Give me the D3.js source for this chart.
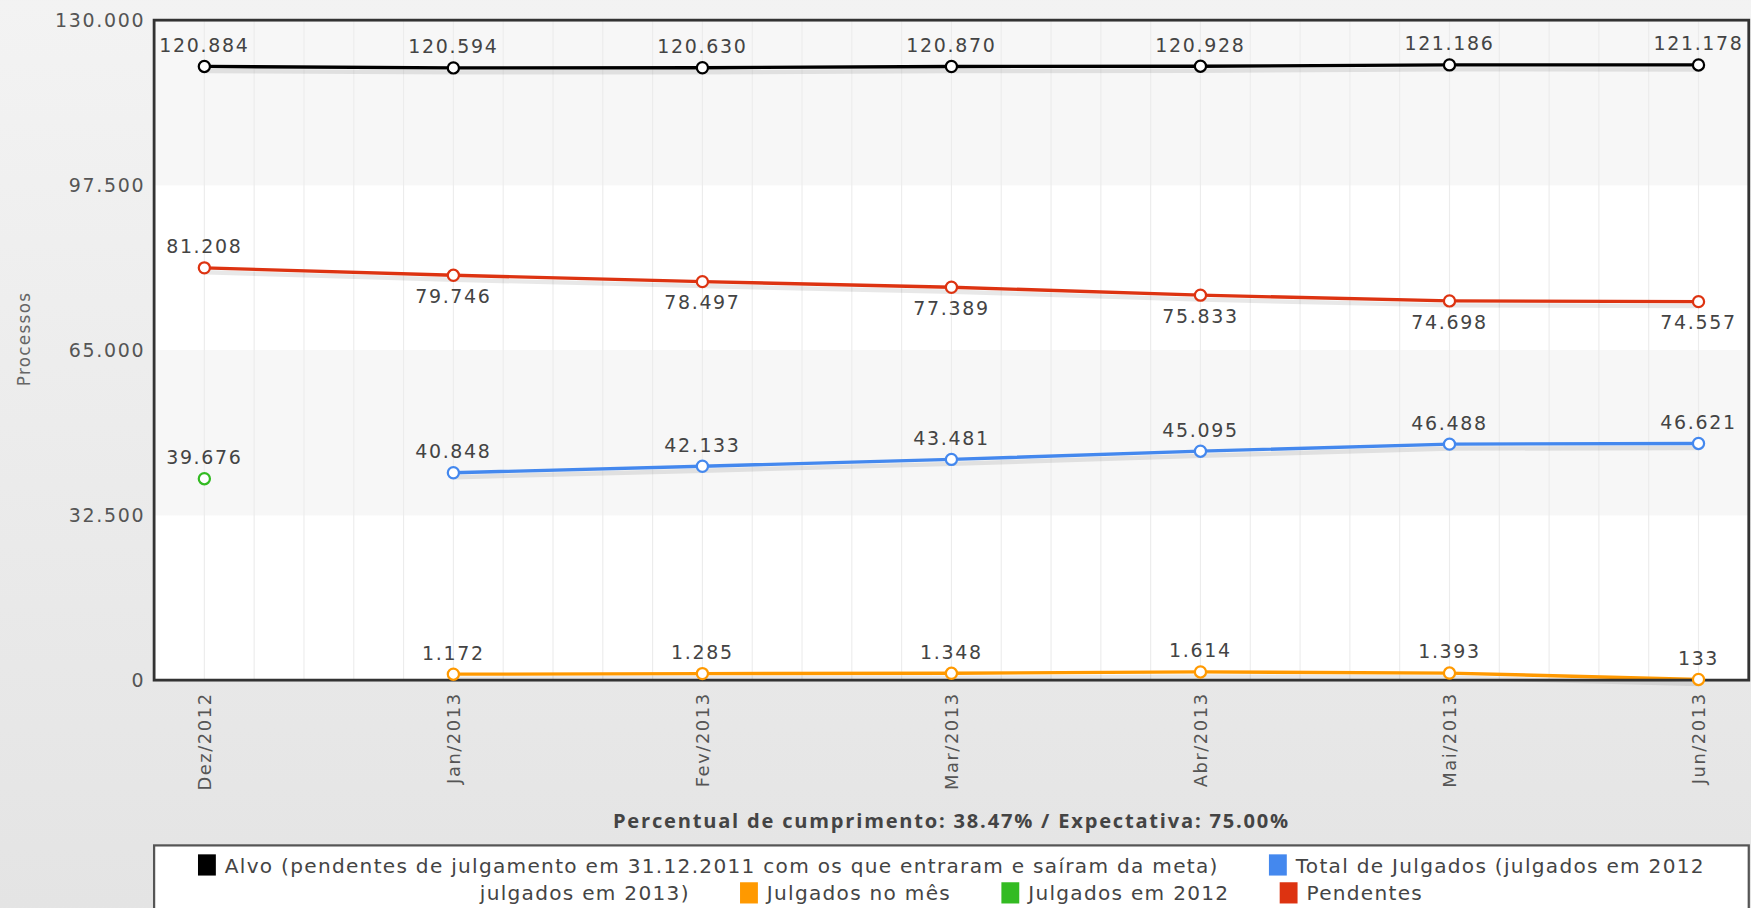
<!DOCTYPE html>
<html>
<head>
<meta charset="utf-8">
<script src="https://cdn.jsdelivr.net/npm/d3@7"></script>
<style>
  html, body { margin: 0; padding: 0; background: #ececec; }
  svg { display: block; }
</style>
</head>
<body>
<div id="chart"></div>
<script>
// categories and series
var categories = ["Dez/2012", "Jan/2013", "Fev/2013", "Mar/2013", "Abr/2013", "Mai/2013", "Jun/2013"];
var alvo = [120884, 120594, 120630, 120870, 120928, 121186, 121178];
var pendentes = [81208, 79746, 78497, 77389, 75833, 74698, 74557];
var totalJulgados = [null, 40848, 42133, 43481, 45095, 46488, 46621];
var julgadosMes = [null, 1172, 1285, 1348, 1614, 1393, 133];
var julgados2012 = [39676, null, null, null, null, null, null];
var yTicks = [0, 32500, 65000, 97500, 130000];

var series = [
    {name: "Pendentes", values: pendentes, color: "#dd3311"},
    {name: "Total de Julgados (julgados em 2012 julgados em 2013)", values: totalJulgados, color: "#4488ee"},
    {name: "Julgados no mês", values: julgadosMes, color: "#ff9900"},
    {name: "Julgados em 2012", values: julgados2012, color: "#33bb22"},
    {name: "Alvo (pendentes de julgamento em 31.12.2011 com os que entraram e saíram da meta)", values: alvo, color: "#000000"}
];

var ptBR = d3.formatLocale({decimal: ",", thousands: ".", grouping: [3], currency: ["R$", ""]});
var fmt = ptBR.format(",.0f");

// layout drawn in a 1568x813 box, scaled up to the window
var W = 1568, H = 813;
var margin = {top: 18, right: 2, bottom: 204, left: 138};
var plotW = W - margin.left - margin.right,
    plotH = H - margin.top - margin.bottom;

var svg = d3.select("#chart")
    .append("svg")
    .attr("width", 1751)
    .attr("height", 908)
    .attr("viewBox", "0 0 " + W + " " + H);

var defs = svg.append("defs");
var grad = defs.append("linearGradient")
    .attr("id", "bg")
    .attr("x1", 0).attr("y1", 0).attr("x2", 0).attr("y2", 1);
grad.append("stop").attr("offset", "0%").attr("stop-color", "#f3f3f3");
grad.append("stop").attr("offset", "100%").attr("stop-color", "#e4e4e4");

svg.append("rect")
    .attr("width", W).attr("height", H)
    .attr("fill", "url(#bg)");

var g = svg.append("g")
    .attr("transform", "translate(" + margin.left + "," + margin.top + ")");

// scales
var x = d3.scalePoint()
    .domain(categories)
    .range([45, plotW - 45]);

var y = d3.scaleLinear()
    .domain([0, 130000])
    .range([plotH, 0]);

// alternating bands
g.selectAll("rect.band")
    .data(d3.pairs(yTicks))
    .enter()
    .append("rect")
    .attr("class", "band")
    .attr("x", 0)
    .attr("width", plotW)
    .attr("y", function(d) { return y(d[1]); })
    .attr("height", function(d) { return y(d[0]) - y(d[1]); })
    .attr("fill", function(d, i) { return i % 2 ? "#f7f7f7" : "#ffffff"; });

// faint vertical grid, five per category step
var step = x.step() / 5;
var gridX = d3.range(x(categories[0]) - step, plotW, step);
g.selectAll("line.vgrid")
    .data(gridX)
    .enter()
    .append("line")
    .attr("class", "vgrid")
    .attr("x1", function(d) { return d; })
    .attr("x2", function(d) { return d; })
    .attr("y1", 0)
    .attr("y2", plotH)
    .attr("stroke", "#ececec")
    .attr("stroke-width", 1);

// y axis labels
var yAxis = g.append("g")
    .call(d3.axisLeft(y).tickValues(yTicks).tickFormat(fmt).tickSize(0).tickPadding(8));
yAxis.select(".domain").remove();
yAxis.selectAll("text")
    .attr("fill", "#555")
    .style("font-family", "DejaVu Sans")
    .style("font-size", "17px")
    .style("letter-spacing", "1.5px");

g.append("text")
    .attr("transform", "rotate(-90)")
    .attr("x", -plotH / 2 + 10)
    .attr("y", -margin.left + 22)
    .attr("dy", "0.35em")
    .style("text-anchor", "middle")
    .style("font-family", "DejaVu Sans")
    .style("font-size", "15px")
    .style("letter-spacing", "1.2px")
    .attr("fill", "#666")
    .text("Processos");

// x axis labels
g.selectAll("text.xlab")
    .data(categories)
    .enter()
    .append("text")
    .attr("class", "xlab")
    .attr("transform", function(d) { return "translate(" + x(d) + "," + (plotH + 11) + ") rotate(-90)"; })
    .attr("dy", "0.35em")
    .style("text-anchor", "end")
    .style("font-family", "DejaVu Sans")
    .style("font-size", "16px")
    .style("letter-spacing", "1.4px")
    .attr("fill", "#555")
    .text(function(d) { return d; });

// lines
var line = d3.line()
    .defined(function(d) { return d != null; })
    .x(function(d, i) { return x(categories[i]); })
    .y(function(d) { return y(d); });

series.forEach(function(s) {
    g.append("path")
        .datum(s.values)
        .attr("fill", "none")
        .attr("stroke", "rgba(0,0,0,0.09)")
        .attr("stroke-width", 4)
        .attr("transform", "translate(1,4)")
        .attr("d", line);
    g.append("path")
        .datum(s.values)
        .attr("fill", "none")
        .attr("stroke", s.color)
        .attr("stroke-width", 3)
        .attr("d", line);
});

// frame
g.append("rect")
    .attr("width", plotW)
    .attr("height", plotH)
    .attr("fill", "none")
    .attr("stroke", "#333")
    .attr("stroke-width", 2.5);

// markers and value labels
series.forEach(function(s) {
    var pts = s.values
        .map(function(v, i) { return {v: v, i: i}; })
        .filter(function(d) { return d.v != null; });

    g.selectAll(null)
        .data(pts)
        .enter()
        .append("circle")
        .attr("cx", function(d) { return x(categories[d.i]); })
        .attr("cy", function(d) { return y(d.v); })
        .attr("r", 5)
        .attr("fill", "#fff")
        .attr("stroke", s.color)
        .attr("stroke-width", 2);

    g.selectAll(null)
        .data(pts)
        .enter()
        .append("text")
        .attr("x", function(d) { return x(categories[d.i]); })
        .attr("y", function(d) {
            // falling red line gets its labels under the points
            var below = s.values === pendentes && d.i > 0;
            return y(d.v) + (below ? 19 : -19);
        })
        .attr("dy", "0.35em")
        .style("text-anchor", "middle")
        .style("font-family", "DejaVu Sans")
        .style("font-size", "17px")
        .style("letter-spacing", "1.5px")
        .attr("fill", "#444")
        .text(function(d) { return fmt(d.v); });
});

// footer
svg.append("text")
    .attr("x", margin.left + plotW / 2)
    .attr("y", 735)
    .attr("dy", "0.35em")
    .style("text-anchor", "middle")
    .style("font-family", "Open Sans")
    .style("font-weight", "bold")
    .style("font-size", "18px")
    .style("letter-spacing", "1.6px")
    .attr("fill", "#444")
    .text("Percentual de cumprimento: 38.47% / Expectativa: 75.00%");

// legend
svg.append("rect")
    .attr("x", margin.left)
    .attr("y", 757)
    .attr("width", plotW)
    .attr("height", 80)
    .attr("fill", "#fff")
    .attr("stroke", "#555")
    .attr("stroke-width", 2);

var blueName = series[1].name;
var cut = blueName.indexOf(" julgados em 2013");
var legendRows = [
    [{color: series[4].color, text: series[4].name},
     {color: series[1].color, text: blueName.slice(0, cut)}],
    [{color: null, text: blueName.slice(cut + 1)},
     {color: series[2].color, text: series[2].name},
     {color: series[3].color, text: series[3].name},
     {color: series[0].color, text: series[0].name}]
];

var legendCenter = margin.left + plotW / 2;
legendRows.forEach(function(row, r) {
    var rowY = 775 + r * 25;
    var rg = svg.append("g");
    var cx = 0;
    row.forEach(function(item, k) {
        if (k > 0) cx += 45;
        if (item.color) {
            rg.append("rect")
                .attr("x", cx).attr("y", rowY - 10)
                .attr("width", 16).attr("height", 19)
                .attr("fill", item.color);
            cx += 24;
        }
        var t = rg.append("text")
            .attr("x", cx)
            .attr("y", rowY)
            .attr("dy", "0.35em")
            .style("font-family", "DejaVu Sans")
            .style("font-size", "18px")
            .style("letter-spacing", "1.15px")
            .attr("fill", "#444")
            .text(item.text);
        cx += t.node().getComputedTextLength();
    });
    rg.attr("transform", "translate(" + (legendCenter - cx / 2) + ",0)");
});
</script>
</body>
</html>
